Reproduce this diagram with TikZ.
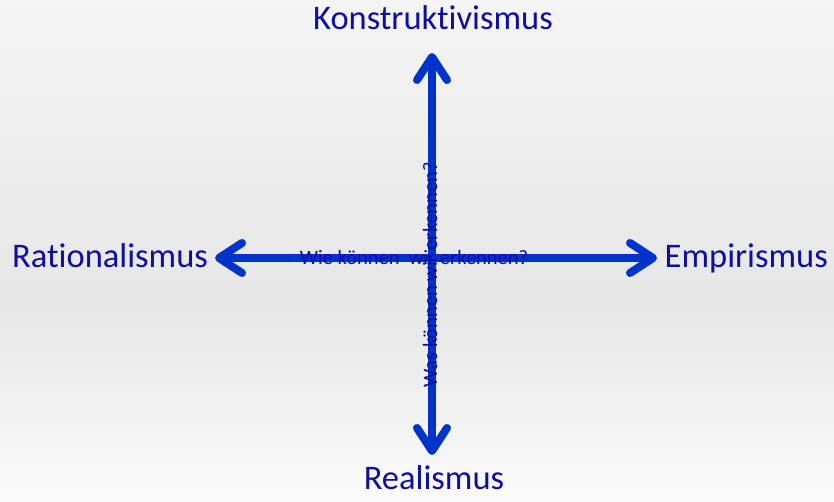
\documentclass[tikz,border=0pt]{standalone}
\usepackage{fontspec}
\setmainfont{Carlito}[Ligatures=NoCommon]
\usetikzlibrary{arrows.meta}
\definecolor{pfeilblau}{RGB}{0,51,204}
\definecolor{textblau}{RGB}{14,14,160}
\pgfdeclareverticalshading{hintergrund}{100bp}{color(0bp)=(black!1.5); color(25bp)=(black!1.5);
	color(45bp)=(black!9.5); color(75bp)=(black!4); color(100bp)=(black!4)}
\begin{document}
\begin{tikzpicture}[x=1pt,y=1pt,
	pfeil/.style={line width=8pt,pfeilblau,-{Straight Barb[length=23pt,width=30pt,round]}},
	gross/.style={textblau,font=\fontsize{34.5}{40}\selectfont,inner sep=0pt},
	klein/.style={textblau,font=\fontsize{20.5}{24}\selectfont,inner sep=0pt}]
	%Hintergrund
	\shade[shading=hintergrund] (0,0) rectangle (834,502);
	\useasboundingbox (0,0) rectangle (834,502);
	%Achsen
	\coordinate (mitte) at (432,244);
	\coordinate (oben) at (432,449);
	\coordinate (unten) at (432,47);
	\coordinate (links) at (215,244);
	\coordinate (rechts) at (657,244);
	\draw[pfeil] (mitte) -- (oben);
	\draw[pfeil] (mitte) -- (unten);
	\draw[pfeil] (mitte) -- (links);
	\draw[pfeil] (mitte) -- (rechts);
	%Begriffe
	\node[gross,anchor=base] (kon) at (433,472) {Konstruktivismus};
	\node[gross,anchor=base] (real) at (434,12) {Realismus};
	\node[gross,anchor=base west] (rat) at (12,234) {Rationalismus};
	\node[gross,anchor=base east] (emp) at (828,234) {Empirismus};
	%Fragen
	\node[klein,anchor=base] (wie) at (414,237) {Wie können\ \ wir erkennen?};
	\node[klein,rotate=90,anchor=base] (was) at (437,227) {Was können wir erkennen?};
\end{tikzpicture}
\end{document}
